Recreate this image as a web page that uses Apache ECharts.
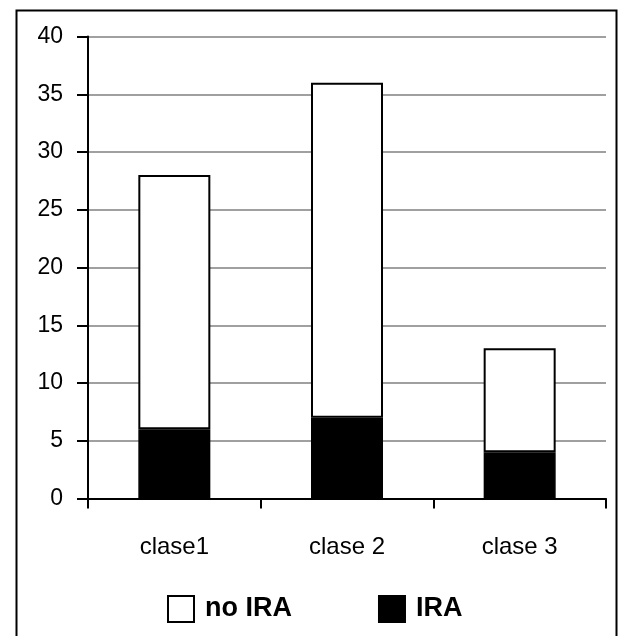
<!DOCTYPE html>
<html>
<head>
<meta charset="utf-8">
<script src="https://cdn.jsdelivr.net/npm/echarts@6/dist/echarts.min.js"></script>
<style>
html,body{margin:0;padding:0;background:#fff;}
#chart{width:619px;height:636px;}
</style>
</head>
<body>
<div id="chart"></div>
<script>
const categories = ['clase1', 'clase 2', 'clase 3'];
const iraValues = [6, 7, 4];
const noIraValues = [22, 29, 9];
const yTicks = [0, 5, 10, 15, 20, 25, 30, 35, 40];

const chart = echarts.init(document.getElementById('chart'), null, {renderer: 'canvas'});
const font = '"Liberation Sans", Arial, sans-serif';
chart.setOption({
  animation: false,
  backgroundColor: '#fff',
  graphic: [{
    type: 'rect',
    shape: {x: 16.5, y: 10.5, width: 600, height: 650},
    style: {fill: 'none', stroke: '#000', lineWidth: 2},
    silent: true
  }],
  grid: {left: 88, right: 13, top: 36.5, bottom: 137.5},
  legend: {
    data: ['no IRA', 'IRA'],
    left: 167, top: 595, padding: 0,
    itemWidth: 26, itemHeight: 26, itemGap: 86,
    icon: 'rect',
    textStyle: {fontFamily: font, fontSize: 27, fontWeight: 'bold', color: '#000', padding: [0,0,0,6]}
  },
  xAxis: {
    type: 'category',
    data: categories,
    axisLine: {lineStyle: {color: '#000', width: 2}},
    axisTick: {show: true, length: 10, lineStyle: {color: '#000', width: 2}},
    axisLabel: {fontFamily: font, fontSize: 24, color: '#000', margin: 37}
  },
  yAxis: {
    type: 'value',
    min: yTicks[0], max: yTicks[yTicks.length - 1], interval: 5,
    axisLine: {show: true, lineStyle: {color: '#000', width: 2}},
    axisTick: {show: true, length: 11, lineStyle: {color: '#000', width: 2}},
    axisLabel: {fontFamily: font, fontSize: 23, color: '#000', margin: 25},
    splitLine: {lineStyle: {color: '#a0a0a0', width: 2}}
  },
  series: [
    {
      name: 'IRA', type: 'bar', stack: 'total', data: iraValues, barWidth: 72,
      itemStyle: {color: '#000', borderColor: '#000', borderWidth: 1.5}
    },
    {
      name: 'no IRA', type: 'bar', stack: 'total', data: noIraValues, barWidth: 72,
      itemStyle: {color: '#fff', borderColor: '#000', borderWidth: 2}
    }
  ]
});
</script>
</body>
</html>
